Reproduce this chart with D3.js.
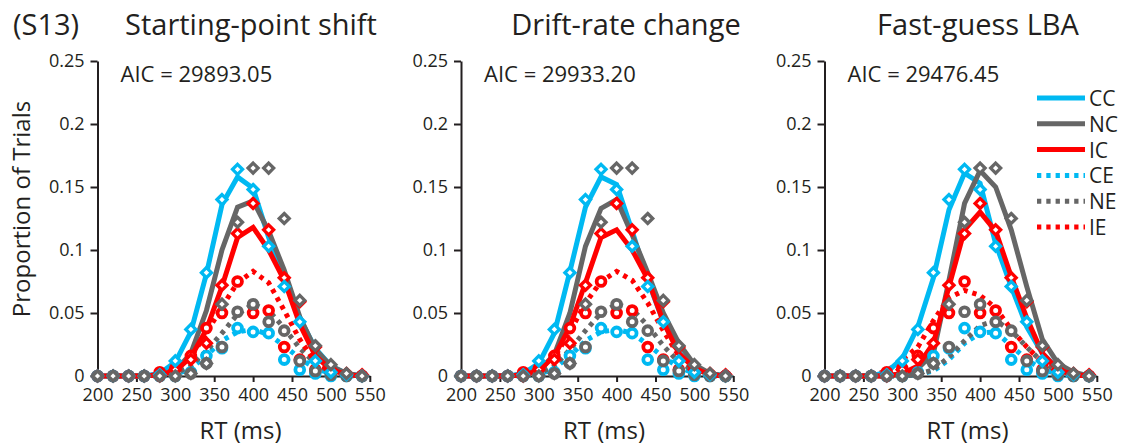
<!DOCTYPE html>
<html>
<head>
<meta charset="utf-8">
<script src="https://cdn.jsdelivr.net/npm/d3@7"></script>
<style>
  body { margin: 0; background: #fff; }
  svg { display: block; }
  text { font-family: "Open Sans", sans-serif; fill: #231f20; }
</style>
</head>
<body>
<svg id="chart" width="1130" height="446"></svg>
<script>
// RT bins (ms) and axis ticks
var rtBins = [200, 220, 240, 260, 280, 300, 320, 340, 360, 380, 400, 420, 440, 460, 480, 500, 520, 540];
var xTicks = [200, 250, 300, 350, 400, 450, 500, 550];
var yTicks = [0, 0.05, 0.1, 0.15, 0.2, 0.25];
var yTickLabels = ["0", "0.05", "0.1", "0.15", "0.2", "0.25"];

var panelTitles = ["Starting-point shift", "Drift-rate change", "Fast-guess LBA"];
var aicLabels = ["AIC = 29893.05", "AIC = 29933.20", "AIC = 29476.45"];
var conditions = ["CC", "NC", "IC", "CE", "NE", "IE"];

// observed data (same in every panel)
var obsCC = [0, 0, 0, 0, 0.001, 0.012, 0.037, 0.082, 0.140, 0.164, 0.148, 0.103, 0.071, 0.043, 0.012, 0.003, 0.001, 0];
var obsNC = [0, 0, 0, 0, 0, 0, 0.002, 0.010, 0.057, 0.122, 0.165, 0.165, 0.125, 0.060, 0.024, 0.009, 0.002, 0];
var obsIC = [0, 0, 0, 0, 0, 0.005, 0.013, 0.026, 0.072, 0.113, 0.137, 0.116, 0.078, 0.059, 0.023, 0.005, 0.002, 0.001];
var obsCE = [0, 0, 0, 0, 0, 0, 0.003, 0.016, 0.022, 0.038, 0.035, 0.034, 0.013, 0.005, 0.002, 0, 0, 0];
var obsNE = [0, 0, 0, 0, 0, 0, 0.002, 0.010, 0.023, 0.051, 0.057, 0.043, 0.036, 0.012, 0.004, 0.001, 0, 0];
var obsIE = [0, 0, 0, 0, 0.003, 0.006, 0.016, 0.038, 0.050, 0.075, 0.050, 0.052, 0.023, 0.013, 0.005, 0.002, 0.001, 0];

// model: starting-point shift
var spCC = [0, 0, 0, 0, 0.002, 0.011, 0.035, 0.081, 0.136, 0.158, 0.149, 0.110, 0.076, 0.046, 0.022, 0.008, 0.002, 0];
var spNC = [0, 0, 0, 0, 0.001, 0.004, 0.018, 0.052, 0.100, 0.134, 0.139, 0.115, 0.084, 0.047, 0.021, 0.008, 0.002, 0];
var spIC = [0, 0, 0, 0, 0.001, 0.004, 0.015, 0.037, 0.071, 0.110, 0.118, 0.100, 0.076, 0.041, 0.016, 0.005, 0.001, 0];
var spCE = [0, 0, 0, 0, 0, 0.001, 0.006, 0.016, 0.028, 0.035, 0.037, 0.033, 0.024, 0.014, 0.006, 0.002, 0, 0];
var spNE = [0, 0, 0, 0, 0, 0.002, 0.008, 0.020, 0.034, 0.049, 0.057, 0.052, 0.038, 0.022, 0.010, 0.003, 0.001, 0];
var spIE = [0, 0, 0, 0, 0.001, 0.005, 0.015, 0.034, 0.055, 0.074, 0.083, 0.074, 0.052, 0.029, 0.011, 0.004, 0.001, 0];

// model: drift-rate change
var drCC = [0, 0, 0, 0, 0.002, 0.010, 0.034, 0.083, 0.134, 0.158, 0.152, 0.115, 0.076, 0.043, 0.019, 0.007, 0.002, 0];
var drNC = [0, 0, 0, 0, 0.001, 0.004, 0.017, 0.050, 0.103, 0.133, 0.140, 0.112, 0.082, 0.050, 0.026, 0.009, 0.002, 0];
var drIC = [0, 0, 0, 0, 0.001, 0.004, 0.016, 0.039, 0.074, 0.110, 0.116, 0.100, 0.077, 0.043, 0.018, 0.006, 0.001, 0];
var drCE = [0, 0, 0, 0, 0, 0.001, 0.006, 0.016, 0.028, 0.035, 0.037, 0.034, 0.025, 0.015, 0.007, 0.002, 0, 0];
var drNE = [0, 0, 0, 0, 0, 0.002, 0.008, 0.021, 0.036, 0.050, 0.057, 0.053, 0.040, 0.024, 0.011, 0.004, 0.001, 0];
var drIE = [0, 0, 0, 0, 0.001, 0.005, 0.015, 0.035, 0.058, 0.075, 0.083, 0.076, 0.058, 0.036, 0.016, 0.005, 0.001, 0];

// model: fast-guess LBA
var fgCC = [0, 0, 0, 0, 0.003, 0.014, 0.039, 0.078, 0.132, 0.161, 0.153, 0.105, 0.071, 0.039, 0.018, 0.006, 0.002, 0];
var fgNC = [0, 0, 0, 0, 0, 0.002, 0.006, 0.018, 0.076, 0.137, 0.163, 0.150, 0.116, 0.071, 0.029, 0.010, 0.003, 0];
var fgIC = [0, 0, 0, 0, 0, 0.002, 0.008, 0.026, 0.071, 0.116, 0.130, 0.115, 0.079, 0.046, 0.018, 0.005, 0.001, 0];
var fgCE = [0, 0, 0, 0, 0, 0, 0.001, 0.004, 0.013, 0.026, 0.034, 0.035, 0.024, 0.013, 0.005, 0.002, 0, 0];
var fgNE = [0, 0, 0, 0, 0, 0, 0.001, 0.005, 0.015, 0.028, 0.040, 0.044, 0.036, 0.023, 0.011, 0.004, 0.001, 0];
var fgIE = [0, 0, 0, 0, 0.004, 0.013, 0.023, 0.044, 0.062, 0.068, 0.064, 0.054, 0.037, 0.023, 0.011, 0.004, 0.001, 0];

var colors = { CC: "#00b9f2", NC: "#666666", IC: "#ff0000", CE: "#00b9f2", NE: "#666666", IE: "#ff0000" };

var observed = { CC: obsCC, NC: obsNC, IC: obsIC, CE: obsCE, NE: obsNE, IE: obsIE };
var models = [
    { CC: spCC, NC: spNC, IC: spIC, CE: spCE, NE: spNE, IE: spIE },
    { CC: drCC, NC: drNC, IC: drIC, CE: drCE, NE: drNE, IE: drIE },
    { CC: fgCC, NC: fgNC, IC: fgIC, CE: fgCE, NE: fgNE, IE: fgIE }
];

var svg = d3.select("#chart");

var panelLeft = [97.5, 461, 824.5];
var plotW = 272.3;
var titleCenter = [251, 626, 978];

var y = d3.scaleLinear().domain([0, 0.25]).range([376, 61]);

// top-left subject label
svg.append("text")
    .attr("x", 13).attr("y", 35)
    .attr("font-size", 29)
    .text("(S13)");

// y axis label
svg.append("text")
    .attr("transform", "translate(30,209) rotate(-90)")
    .attr("text-anchor", "middle")
    .attr("font-size", 24)
    .text("Proportion of Trials");

function isError(c) {
    return c.charAt(1) == "E";
}

function drawPanel(i) {
    var left = panelLeft[i];
    var x = d3.scaleLinear().domain([200, 550]).range([left, left + plotW]);
    var g = svg.append("g");

    // title + AIC
    svg.append("text")
        .attr("x", titleCenter[i]).attr("y", 35)
        .attr("text-anchor", "middle")
        .attr("font-size", 29)
        .text(panelTitles[i]);
    svg.append("text")
        .attr("x", left + 23).attr("y", 82)
        .attr("font-size", 22)
        .text(aicLabels[i]);

    // axes
    var yAxis = d3.axisLeft(y)
        .tickValues(yTicks)
        .tickFormat(function (d, k) { return yTickLabels[k]; })
        .tickSizeInner(7).tickSizeOuter(0).tickPadding(6);
    var gy = g.append("g").attr("transform", "translate(" + left + ",0)").call(yAxis);

    var xAxis = d3.axisBottom(x)
        .tickValues(xTicks)
        .tickSizeInner(6).tickSizeOuter(0).tickPadding(6);
    var gx = g.append("g").attr("transform", "translate(0," + y(0) + ")").call(xAxis);

    [gx, gy].forEach(function (a) {
        a.select(".domain").attr("stroke", "#231f20").attr("stroke-width", 2);
        a.selectAll(".tick line").attr("stroke", "#231f20").attr("stroke-width", 2);
        a.selectAll(".tick text").attr("font-size", 18).attr("fill", "#231f20")
            .attr("font-family", "'Open Sans', sans-serif");
    });

    svg.append("text")
        .attr("x", left + 143).attr("y", 439)
        .attr("text-anchor", "middle")
        .attr("font-size", 24)
        .text("RT (ms)");

    // model lines
    var line = d3.line()
        .x(function (d, k) { return x(rtBins[k]); })
        .y(function (d) { return y(d); });

    ["CE", "NE", "IE", "CC", "NC", "IC"].forEach(function (c) {
        g.append("path")
            .datum(models[i][c])
            .attr("fill", "none")
            .attr("stroke", colors[c])
            .attr("stroke-width", 5)
            .attr("stroke-dasharray", isError(c) ? "4.3,5" : null)
            .attr("d", line);
    });

    // observed markers
    ["IE", "CE", "NE", "IC", "CC", "NC"].forEach(function (c) {
        var pts = g.append("g").selectAll("path.m" + c)
            .data(observed[c]).enter();
        if (isError(c)) {
            pts.append("circle")
                .attr("cx", function (d, k) { return x(rtBins[k]); })
                .attr("cy", function (d) { return y(d); })
                .attr("r", 4.4)
                .attr("fill", "#fff")
                .attr("stroke", colors[c])
                .attr("stroke-width", 3.8);
        } else {
            pts.append("path")
                .attr("transform", function (d, k) {
                    return "translate(" + x(rtBins[k]) + "," + y(d) + ")";
                })
                .attr("d", "M0,-5L5,0L0,5L-5,0Z")
                .attr("fill", "#fff")
                .attr("stroke", colors[c])
                .attr("stroke-width", 3.3);
        }
    });
}

for (var i = 0; i < 3; i++) {
    drawPanel(i);
}

// legend (inside the third panel)
var legend = svg.append("g");
conditions.forEach(function (c, k) {
    var ly = 98 + k * 25.8;
    legend.append("line")
        .attr("x1", 1037).attr("x2", 1085)
        .attr("y1", ly).attr("y2", ly)
        .attr("stroke", colors[c])
        .attr("stroke-width", 5)
        .attr("stroke-dasharray", isError(c) ? "4.3,5" : null);
    legend.append("text")
        .attr("x", 1089).attr("y", ly + 8)
        .attr("font-family", "'Liberation Sans', Arial, sans-serif")
        .attr("font-size", 21)
        .attr("fill", "#000")
        .text(c);
});
</script>
</body>
</html>
